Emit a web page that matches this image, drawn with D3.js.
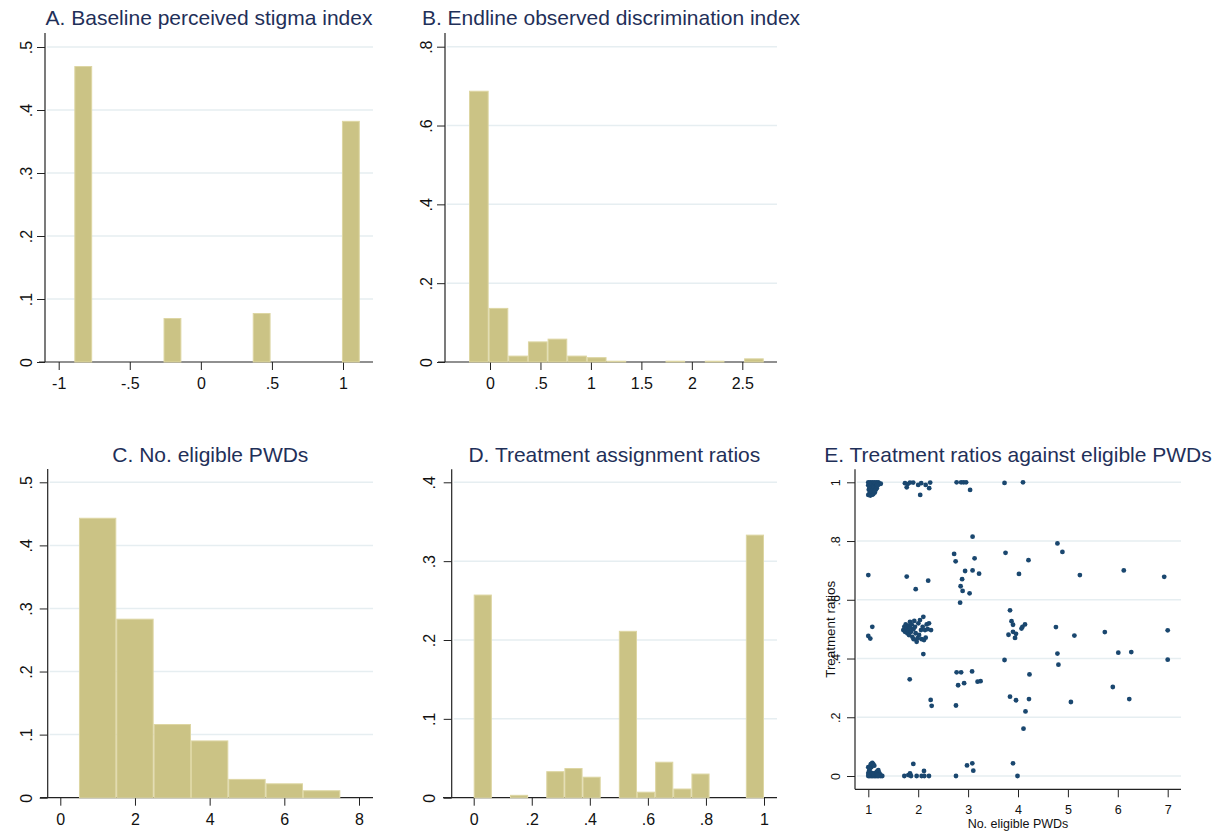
<!DOCTYPE html>
<html>
<head>
<meta charset="utf-8">
<script src="https://cdn.jsdelivr.net/npm/d3@7"></script>
<style>
  body { margin: 0; background: #fff; }
  svg { display: block; }
</style>
</head>
<body>
<div id="chart"></div>
<script>
// ---- data (fractions per bin) ----
const stigmaBinStart = -0.89;
const stigmaBinWidth = 0.1255;
const stigmaFrac = [0.469, 0, 0, 0, 0, 0.069, 0, 0, 0, 0, 0.077, 0, 0, 0, 0, 0.382];

const discrimBinStart = -0.208;
const discrimBinWidth = 0.1947;
const discrimFrac = [0.687, 0.136, 0.015, 0.051, 0.058, 0.015, 0.011, 0.002, 0, 0, 0.002, 0, 0.002, 0, 0.008];

const pwdBinStart = 0.5;
const pwdBinWidth = 1;
const pwdFrac = [0.443, 0.283, 0.116, 0.090, 0.029, 0.022, 0.011];

const ratioBinStart = 0;
const ratioBinWidth = 0.0625;
const ratioFrac = [0.257, 0, 0.003, 0, 0.033, 0.037, 0.026, 0, 0.211, 0.007, 0.045, 0.011, 0.030, 0, 0, 0.333];

// tick values
const stigmaTicksX = [-1, -0.5, 0, 0.5, 1];
const stigmaTicksY = [0, 0.1, 0.2, 0.3, 0.4, 0.5];
const discrimTicksX = [0, 0.5, 1, 1.5, 2, 2.5];
const discrimTicksY = [0, 0.2, 0.4, 0.6, 0.8];
const pwdTicksX = [0, 2, 4, 6, 8];
const pwdTicksY = [0, 0.1, 0.2, 0.3, 0.4, 0.5];
const ratioTicksX = [0, 0.2, 0.4, 0.6, 0.8, 1];
const ratioTicksY = [0, 0.1, 0.2, 0.3, 0.4];
const scatterTicksX = [1, 2, 3, 4, 5, 6, 7];
const scatterTicksY = [0, 0.2, 0.4, 0.6, 0.8, 1];

// eligible PWDs (jittered) vs treatment ratio
const treatPoints = [
  // cluster near (1, 1)
  [1.00,1.00],[1.02,0.99],[1.04,1.00],[1.06,0.985],[1.08,1.00],[1.10,0.99],[1.12,1.00],[1.14,0.985],
  [1.16,1.00],[1.18,0.99],[1.20,1.00],[1.22,0.995],[1.25,0.995],[1.01,0.975],[1.03,0.965],[1.05,0.975],
  [1.07,0.96],[1.09,0.97],[1.11,0.98],[1.13,0.965],[1.15,0.975],[1.00,0.957],[1.04,0.955],[1.08,0.958],
  [1.02,0.985],[1.06,0.97],[1.10,0.96],[1.17,0.98],[1.19,0.99],[1.12,0.97],[1.00,0.99],[1.03,0.995],
  // top row
  [1.735,0.997],[1.79,0.994],[1.835,0.999],[1.90,0.999],[1.77,0.983],[2.0,0.991],[2.06,0.997],[2.04,0.957],
  [2.15,0.991],[2.24,0.999],[2.22,0.98],[2.77,1],[2.86,1],[2.91,1],[2.96,1],[3.04,0.974],[3.73,0.998],[4.10,1],
  // upper middle
  [3.09,0.815],[2.72,0.756],[2.75,0.731],[3.13,0.741],[2.94,0.698],[3.09,0.700],[3.22,0.689],[2.88,0.670],
  [2.85,0.646],[2.89,0.630],[3.03,0.622],[2.84,0.590],[1.0,0.684],[1.77,0.679],[1.95,0.636],[2.2,0.665],
  [3.75,0.760],[4.21,0.735],[4.02,0.688],[4.79,0.792],[4.89,0.763],[5.24,0.684],[6.12,0.700],[6.93,0.678],
  // around one half
  [1.0,0.477],[1.04,0.468],[1.08,0.508],
  [1.702,0.497],[1.722,0.508],[1.735,0.491],[1.749,0.516],[1.769,0.503],[1.782,0.486],[1.802,0.512],[1.802,0.497],
  [1.816,0.480],[1.836,0.525],[1.836,0.505],[1.856,0.491],[1.869,0.516],[1.882,0.474],[1.902,0.500],[1.922,0.528],
  [1.936,0.508],[1.949,0.486],[1.969,0.457],[1.989,0.469],[2.003,0.520],[2.036,0.531],[2.056,0.497],[2.069,0.466],
  [2.09,0.508],[2.103,0.542],[2.116,0.463],[2.136,0.497],[2.15,0.471],[2.17,0.516],[2.19,0.500],[2.216,0.520],
  [2.257,0.497],[2.017,0.480],[1.909,0.466],[2.103,0.415],
  [3.84,0.564],[3.87,0.527],[3.9,0.515],[3.81,0.481],[3.9,0.491],[3.96,0.484],[3.94,0.470],[4.07,0.502],
  [4.09,0.508],[4.14,0.516],[4.76,0.507],[5.13,0.478],[5.74,0.490],[7.0,0.496],[4.79,0.417],[4.81,0.379],
  [6.01,0.420],[6.27,0.422],[7.0,0.396],[3.73,0.395],
  // lower middle
  [1.83,0.329],[2.25,0.259],[2.27,0.239],[2.77,0.353],[2.86,0.353],[2.80,0.309],[2.92,0.316],[3.08,0.356],
  [3.19,0.321],[3.25,0.323],[2.757,0.240],[4.23,0.346],[3.84,0.270],[3.96,0.258],[4.22,0.262],[4.15,0.220],
  [4.11,0.161],[5.06,0.252],[5.90,0.303],[6.23,0.262],
  // cluster near (1, 0)
  [1.00,0.00],[1.03,0.00],[1.06,0.00],[1.09,0.00],[1.12,0.00],[1.15,0.00],[1.18,0.00],[1.21,0.00],
  [1.25,0.00],[1.28,0.00],[1.00,0.01],[1.02,0.02],[1.04,0.01],[1.06,0.03],[1.08,0.045],[1.10,0.04],
  [1.12,0.035],[1.05,0.04],[1.00,0.03],[1.01,0.005],[1.14,0.01],[1.17,0.015],[1.20,0.02],[1.22,0.01],
  [1.08,0.01],[1.03,0.025],[1.11,0.005],[1.16,0.005],[1.24,0.005],[1.19,0.003],
  // bottom row
  [1.722,0],[1.802,0.003],[1.836,0.009],[1.856,0],[1.902,0.041],[1.969,0],[2.069,0],[2.116,0.017],
  [2.123,0],[2.216,0],[2.757,0],[2.978,0.036],[3.084,0.043],[3.104,0.018],[3.90,0.043],[3.99,0]
];

const width = 1218;
const height = 833;
const FONT = "'Liberation Sans', Arial, Helvetica, sans-serif";
const TITLE_COLOR = "#1f3059";
const BAR_FILL = "#cbc385";
const BAR_LINE = "#ddd6a3";
const GRID = "#e6eef1";
const AXIS = "#222";
const DOT = "#1a476f";

const svg = d3.select("#chart").append("svg")
  .attr("width", width)
  .attr("height", height)
  .style("background", "#fff");

// Stata-style number format: .5, -.5, 1.5
function stataFmt(v) {
  const s = String(+v.toFixed(3));
  return s.replace(/^(-?)0\./, "$1.");
}

function drawPanel(cfg) {
  const g = svg.append("g");
  const x = d3.scaleLinear().domain(cfg.xDomain).range(cfg.xRange);
  const y = d3.scaleLinear().domain(cfg.yDomain).range(cfg.yRange);
  const fs = cfg.tickFont || 16;

  // gridlines
  g.selectAll("line.grid")
    .data(cfg.yTicks.filter((t) => cfg.gridZero || t !== 0))
    .enter()
    .append("line")
    .attr("class", "grid")
    .attr("x1", cfg.left + 2)
    .attr("x2", cfg.right)
    .attr("y1", (d) => y(d))
    .attr("y2", (d) => y(d))
    .attr("stroke", GRID)
    .attr("stroke-width", 1.5);

  // y axis
  const yAx = g.append("g")
    .attr("transform", `translate(${cfg.left},0)`)
    .call(d3.axisLeft(y).tickValues(cfg.yTicks).tickFormat(stataFmt).tickSize(8).tickSizeOuter(0));
  yAx.select(".domain").remove();
  yAx.selectAll(".tick line").attr("stroke", AXIS).attr("stroke-width", 1);
  yAx.selectAll(".tick text")
    .attr("x", null).attr("dy", null)
    .attr("transform", `translate(${cfg.yLabOff},0) rotate(-90)`)
    .attr("text-anchor", "middle")
    .attr("font-family", FONT)
    .attr("font-size", fs)
    .attr("fill", "#111");
  g.append("line")
    .attr("x1", cfg.left).attr("x2", cfg.left)
    .attr("y1", cfg.top).attr("y2", cfg.bottom)
    .attr("stroke", AXIS).attr("stroke-width", 1.2);

  // x axis
  const xAx = g.append("g")
    .attr("transform", `translate(0,${cfg.bottom})`)
    .call(d3.axisBottom(x).tickValues(cfg.xTicks).tickFormat(stataFmt).tickSize(8).tickSizeOuter(0));
  xAx.select(".domain").remove();
  xAx.selectAll(".tick line").attr("stroke", AXIS).attr("stroke-width", 1);
  xAx.selectAll(".tick text")
    .attr("y", cfg.xLabOff).attr("dy", null)
    .attr("font-family", FONT)
    .attr("font-size", fs)
    .attr("fill", "#111");
  g.append("line")
    .attr("x1", cfg.xAxisStart).attr("x2", cfg.right)
    .attr("y1", cfg.bottom).attr("y2", cfg.bottom)
    .attr("stroke", AXIS).attr("stroke-width", 1.2);

  // title
  g.append("text")
    .attr("x", (cfg.left + cfg.right) / 2)
    .attr("y", cfg.titleY)
    .attr("text-anchor", "middle")
    .attr("font-family", FONT)
    .attr("font-size", 21)
    .attr("fill", TITLE_COLOR)
    .text(cfg.title);

  return { g, x, y };
}

function drawHist(p, start, w, fracs) {
  const bins = fracs.map((f, i) => ({ x0: start + i * w, x1: start + (i + 1) * w, f }))
    .filter((d) => d.f > 0);
  p.g.selectAll("rect.bar")
    .data(bins)
    .enter()
    .append("rect")
    .attr("class", "bar")
    .attr("x", (d) => p.x(d.x0) + 0.5)
    .attr("width", (d) => Math.max(0, p.x(d.x1) - p.x(d.x0) - 1))
    .attr("y", (d) => p.y(d.f))
    .attr("height", (d) => Math.max(0.8, p.y(0) - p.y(d.f)))
    .attr("fill", BAR_FILL)
    .attr("stroke", BAR_LINE)
    .attr("stroke-width", 1);
}

// A. baseline stigma
const pA = drawPanel({
  title: "A. Baseline perceived stigma index",
  xDomain: [-1, 1], xRange: [58.7, 343],
  yDomain: [0, 0.5], yRange: [362, 47],
  left: 45, right: 373, top: 33, bottom: 362, xAxisStart: 39,
  xTicks: stigmaTicksX, yTicks: stigmaTicksY,
  yLabOff: -13.5, xLabOff: 26.5, titleY: 25
});
drawHist(pA, stigmaBinStart, stigmaBinWidth, stigmaFrac);

// B. endline discrimination
const pB = drawPanel({
  title: "B. Endline observed discrimination index",
  xDomain: [0, 2.5], xRange: [490, 742.3],
  yDomain: [0, 0.8], yRange: [362, 46.7],
  left: 445, right: 777, top: 33, bottom: 362, xAxisStart: 438,
  xTicks: discrimTicksX, yTicks: discrimTicksY,
  yLabOff: -13.3, xLabOff: 26.5, titleY: 25
});
drawHist(pB, discrimBinStart, discrimBinWidth, discrimFrac);

// C. number of eligible PWDs
const pC = drawPanel({
  title: "C. No. eligible PWDs",
  xDomain: [0, 8], xRange: [60.3, 359],
  yDomain: [0, 0.5], yRange: [797.7, 482.3],
  left: 47.7, right: 373, top: 469, bottom: 797.7, xAxisStart: 40,
  xTicks: pwdTicksX, yTicks: pwdTicksY,
  yLabOff: -16, xLabOff: 27.3, titleY: 461.5
});
drawHist(pC, pwdBinStart, pwdBinWidth, pwdFrac);

// D. treatment assignment ratios
const pD = drawPanel({
  title: "D. Treatment assignment ratios",
  xDomain: [0, 1], xRange: [473.7, 764],
  yDomain: [0, 0.4], yRange: [797.7, 482.3],
  left: 451.7, right: 777, top: 469.3, bottom: 797.7, xAxisStart: 443,
  xTicks: ratioTicksX, yTicks: ratioTicksY,
  yLabOff: -16.7, xLabOff: 27.3, titleY: 461.5
});
drawHist(pD, ratioBinStart, ratioBinWidth, ratioFrac);

// E. scatter of ratios against eligible PWDs
const pE = drawPanel({
  title: "E. Treatment ratios against eligible PWDs",
  xDomain: [1, 7], xRange: [868.3, 1167.7],
  yDomain: [0, 1], yRange: [776, 482.3],
  left: 855, right: 1181, top: 469.3, bottom: 789.3, xAxisStart: 855,
  xTicks: scatterTicksX, yTicks: scatterTicksY, gridZero: true,
  yLabOff: -15.5, xLabOff: 24.7, titleY: 461.5, tickFont: 12.5
});
pE.g.selectAll("circle.dot")
  .data(treatPoints)
  .enter()
  .append("circle")
  .attr("class", "dot")
  .attr("cx", (d) => pE.x(d[0]))
  .attr("cy", (d) => pE.y(d[1]))
  .attr("r", 2.4)
  .attr("fill", DOT);

pE.g.append("text")
  .attr("x", (855 + 1181) / 2)
  .attr("y", 827.5)
  .attr("text-anchor", "middle")
  .attr("font-family", FONT)
  .attr("font-size", 12.5)
  .attr("fill", "#111")
  .text("No. eligible PWDs");

pE.g.append("text")
  .attr("transform", `translate(835,629.3) rotate(-90)`)
  .attr("text-anchor", "middle")
  .attr("font-family", FONT)
  .attr("font-size", 13.4)
  .attr("fill", "#111")
  .text("Treatment ratios");
</script>
</body>
</html>
